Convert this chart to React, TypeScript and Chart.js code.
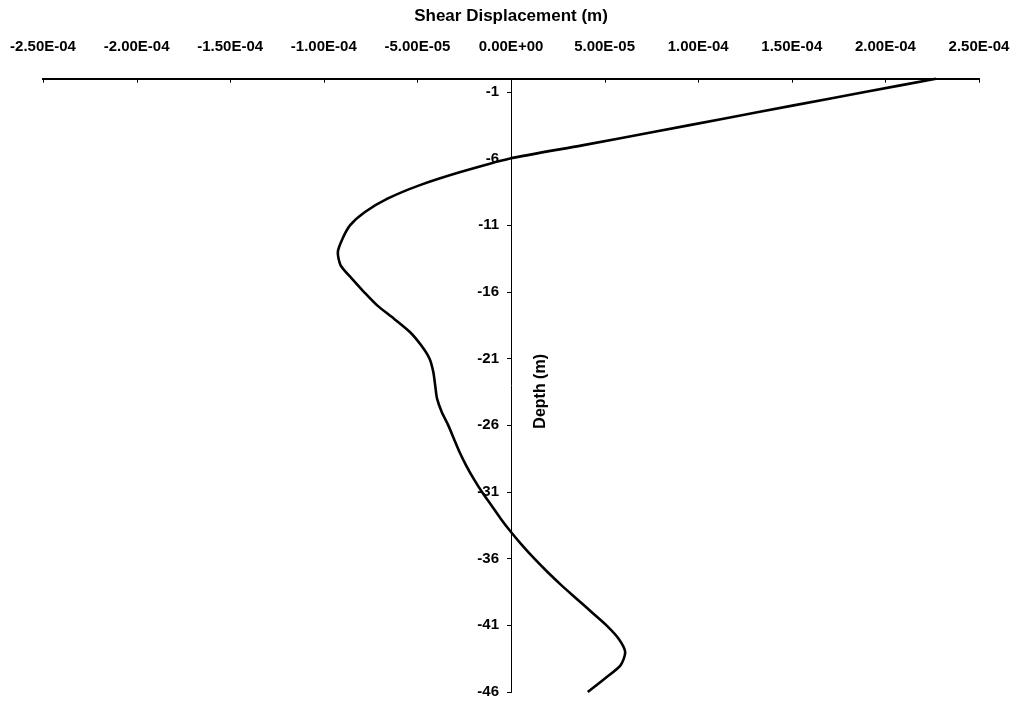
import React, { useEffect, useRef } from 'react';
import { Chart, registerables } from 'chart.js';

Chart.register(...registerables);

// Depth below surface (m)
const depthM = [
  0, -1, -2, -3, -4, -5, -6, -7, -8, -9, -10, -11, -12, -13, -14, -15, -16, -17, -18, -19, -20,
  -21, -22, -23, -24, -25, -26, -27, -28, -29, -30, -31, -32, -33, -34, -35, -36, -37, -38, -39,
  -40, -41, -42, -43, -44, -45, -46,
];

// Shear displacement, in units of 1e-5 m
const shearDispE5 = [
  22.7, 18.9, 15.1, 11.35, 7.6, 3.8, -0.1, -2.7, -4.9, -6.6, -7.8, -8.6, -9.0, -9.25, -9.1, -8.5,
  -7.85, -7.15, -6.25, -5.4, -4.8, -4.35, -4.15, -4.05, -3.95, -3.7, -3.35, -3.05, -2.75, -2.4,
  -2.0, -1.55, -1.05, -0.55, 0.0, 0.6, 1.25, 1.95, 2.7, 3.5, 4.3, 5.1, 5.75, 6.1, 5.85, 5.0, 4.1,
];

const xTickValues = [-2.5e-4, -2.0e-4, -1.5e-4, -1.0e-4, -5.0e-5, 0, 5.0e-5, 1.0e-4, 1.5e-4, 2.0e-4, 2.5e-4];
const xTickLabels = [
  '-2.50E-04', '-2.00E-04', '-1.50E-04', '-1.00E-04', '-5.00E-05', '0.00E+00',
  '5.00E-05', '1.00E-04', '1.50E-04', '2.00E-04', '2.50E-04',
];
const yTickValues = [-1, -6, -11, -16, -21, -26, -31, -36, -41, -46];
const yTickLabels = ['-1', '-6', '-11', '-16', '-21', '-26', '-31', '-36', '-41', '-46'];

const FONT = '"Liberation Sans", Arial, sans-serif';

const extrasPlugin = {
  id: 'extras',
  afterDraw(chart: any) {
    const { ctx, chartArea } = chart;
    const x = chart.scales.x;
    const y = chart.scales.y;
    const axisX = x.getPixelForValue(0);
    ctx.save();
    // small inward tick marks under the top axis
    ctx.strokeStyle = '#000';
    ctx.lineWidth = 1;
    xTickValues.forEach((v) => {
      const px = Math.round(x.getPixelForValue(v)) + 0.5;
      ctx.beginPath();
      ctx.moveTo(px, chartArea.top);
      ctx.lineTo(px, chartArea.top + 4);
      ctx.stroke();
    });
    // depth tick labels, left of the centred axis
    ctx.font = `bold 15px ${FONT}`;
    ctx.fillStyle = '#000';
    ctx.textAlign = 'right';
    ctx.textBaseline = 'middle';
    yTickValues.forEach((v, i) => {
      ctx.fillText(yTickLabels[i], axisX - 12, y.getPixelForValue(v));
    });
    // depth axis title, right of the axis
    const cx = axisX + 30;
    const cy = (chartArea.top + chartArea.bottom) / 2 + 6;
    ctx.translate(cx, cy);
    ctx.rotate(-Math.PI / 2);
    ctx.font = `bold 16px ${FONT}`;
    ctx.textAlign = 'center';
    ctx.fillText('Depth (m)', 0, 0);
    ctx.restore();
  },
};

export default function App() {
  const canvasRef = useRef<HTMLCanvasElement | null>(null);

  useEffect(() => {
    if (!canvasRef.current) return;
    const points = depthM.map((d, i) => ({ x: shearDispE5[i] * 1e-5, y: d }));
    const chart = new Chart(canvasRef.current, {
      type: 'scatter',
      data: {
        datasets: [
          {
            data: points,
            showLine: true,
            borderColor: '#000',
            borderWidth: 2.6,
            pointRadius: 0,
            tension: 0.25,
            clip: false as any,
          },
        ],
      },
      options: {
        animation: false,
        responsive: true,
        maintainAspectRatio: false,
        layout: { padding: { top: 4, left: 43, right: 39, bottom: 10 } },
        plugins: { legend: { display: false }, tooltip: { enabled: false } },
        scales: {
          x: {
            type: 'linear',
            position: 'top',
            min: -2.5e-4,
            max: 2.5e-4,
            afterBuildTicks: (s: any) => {
              s.ticks = xTickValues.map((v) => ({ value: v }));
            },
            ticks: {
              callback: (_v: any, i: number) => xTickLabels[i],
              autoSkip: false,
              maxRotation: 0,
              color: '#000',
              padding: 2,
              font: { family: FONT, size: 15, weight: 'bold' },
            },
            grid: {
              display: true,
              drawOnChartArea: false,
              drawTicks: true,
              tickLength: 21.2,
              tickColor: 'rgba(0,0,0,0)',
            },
            border: { display: true, color: '#000', width: 2 },
            title: {
              display: true,
              text: 'Shear Displacement (m)',
              color: '#000',
              font: { family: FONT, size: 17, weight: 'bold' },
              padding: { top: 2, bottom: 9.1 },
            },
          },
          y: {
            type: 'linear',
            position: { x: 0 } as any,
            min: -46,
            max: 0,
            afterBuildTicks: (s: any) => {
              s.ticks = yTickValues.map((v) => ({ value: v }));
            },
            ticks: { display: false },
            grid: { display: true, drawOnChartArea: false, drawTicks: true, tickLength: 4, color: '#000' },
            border: { display: true, color: '#000', width: 1, dash: [2, 2] },
          },
        },
      },
      plugins: [extrasPlugin],
    });
    return () => chart.destroy();
  }, []);

  return (
    <div style={{ position: 'fixed', left: 0, top: 0, width: 1018, height: 702, background: '#fff' }}>
      <canvas ref={canvasRef} />
    </div>
  );
}
